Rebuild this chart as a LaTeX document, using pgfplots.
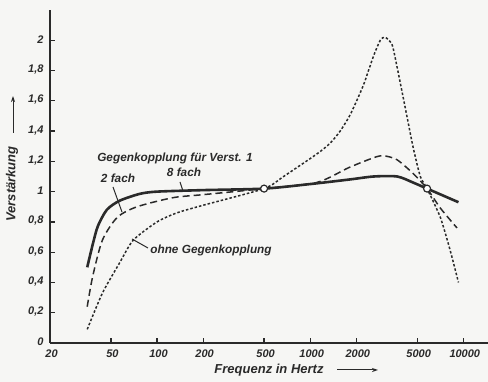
\documentclass[border=0pt]{standalone}
\usepackage{pgfplots}
\pgfplotsset{compat=1.18}
\usepackage{fontspec}
\setmainfont{Liberation Sans}
\usetikzlibrary{arrows.meta}
\definecolor{ink}{HTML}{2A2A2A}
\definecolor{paper}{HTML}{F6F6F4}
\begin{document}
\begin{tikzpicture}[x=1pt,y=1pt]
\fill[paper] (0,0) rectangle (488,382);
\useasboundingbox (0,0) rectangle (488,382);
\begin{axis}[at={(50pt,39pt)}, anchor=south west, scale only axis,
  width=438pt, height=333pt,
  xmode=log, xmin=20, xmax=14500, ymin=0, ymax=2.2,
  axis lines=left, axis line style={ink, line width=1.6pt, -},
  xtick={20,50,100,200,500,1000,2000,5000,10000},
  xticklabels={20,50,100,200,500,1000,2000,5000,10000},
  xminorticks=false, yminorticks=false,
  ytick={0,0.2,0.4,0.6,0.8,1,1.2,1.4,1.6,1.8,2},
  yticklabels={0,{0,2},{0,4},{0,6},{0,8},1,{1,2},{1,4},{1,6},{1,8},2},
  tick align=inside, major tick length=5pt,
  tick style={ink, line width=1.2pt},
  ticklabel style={font=\fontsize{11}{12}\selectfont\bfseries\itshape, text=ink},
  xticklabel style={yshift=-3pt, xshift=1.5pt},
  yticklabel style={xshift=-3pt, yshift=1pt},
  clip=false,
]
% 8 fach (solid)
\addplot[ink, line width=2.6pt, smooth, tension=0.45] coordinates {
(35,0.50) (38,0.65) (41,0.77) (47,0.88) (57,0.94) (77,0.985) (100,1.0) (200,1.01)
(500,1.02) (1000,1.05) (1800,1.08) (2600,1.10) (3700,1.10) (4700,1.06) (5800,1.02) (9300,0.93)};
% 2 fach (dashed)
\addplot[ink, line width=1.5pt, dash pattern=on 7pt off 4pt, smooth, tension=0.45] coordinates {
(35,0.24) (38,0.44) (44,0.68) (55,0.83) (74,0.90) (127,0.96) (200,0.98) (500,1.02)
(1100,1.06) (1800,1.16) (2700,1.23) (3100,1.235) (3700,1.21) (4700,1.12) (5800,1.02) (7100,0.89) (9100,0.76)};
% ohne Gegenkopplung (dotted)
\addplot[ink, line width=1.5pt, dash pattern=on 2.5pt off 2pt, smooth, tension=0.4] coordinates {
(35,0.09) (44,0.33) (57,0.53) (70,0.68) (100,0.80) (135,0.86) (200,0.91) (500,1.02)
(670,1.10) (1110,1.25) (1350,1.32) (1570,1.40) (1830,1.51) (2220,1.70) (2580,1.89) (2870,2.0) (3090,2.02)
(3430,1.97) (3700,1.82) (4000,1.65) (4300,1.49) (4710,1.29) (5240,1.10) (5800,1.02)
(7080,0.83) (8220,0.61) (9300,0.40)};
% circles
\addplot[only marks, mark=*, mark size=3.5pt, mark options={fill=white, draw=ink, line width=1.2pt}]
coordinates {(500,1.02) (5800,1.02)};
\end{axis}
\begin{scope}[font=\fontsize{11.8}{13}\selectfont\bfseries\itshape, text=ink]
\node at (175,224) {Gegenkopplung für Verst. 1};
\node at (118,204) {2 fach};
\node at (184,210) {8 fach};
\node at (211,132) {ohne Gegenkopplung};
\end{scope}
\begin{scope}[font=\fontsize{13}{14}\selectfont\bfseries\itshape, text=ink]
\node[rotate=90] at (12,198) {Verstärkung};
\node at (269,12) {Frequenz in Hertz};
\end{scope}
\draw[ink, line width=1pt] (113,195) -- (122,170);
\draw[ink, line width=1pt] (180,200) -- (183,191);
\draw[ink, line width=1pt] (132,143) -- (148,134);
\draw[ink, line width=1pt, -{Stealth[length=6pt,width=4pt]}] (13,249) -- (13,286);
\draw[ink, line width=1pt, -{Stealth[length=6pt,width=4pt]}] (337,12) -- (378,12);
\end{tikzpicture}
\end{document}
